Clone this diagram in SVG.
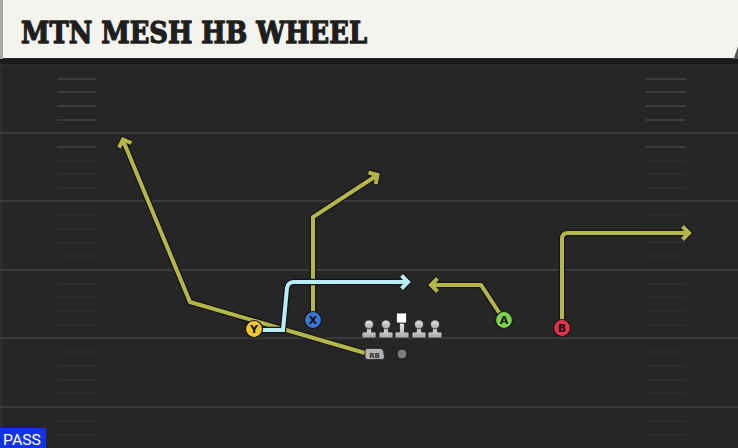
<svg xmlns="http://www.w3.org/2000/svg" width="738" height="448" viewBox="0 0 738 448">
<defs>
<style>
.yard{stroke:#3a3a3a;stroke-width:2}
.hash{stroke:#2c2c2c;stroke-width:2}
.hash.top{stroke:#3c3c3c}
.rt-o{fill:none;stroke:#151515;stroke-width:6.5;stroke-linejoin:miter;stroke-linecap:butt}
.rt{fill:none;stroke:#b4b54b;stroke-width:4;stroke-linejoin:miter;stroke-linecap:butt}
.rt.cyan{stroke:#b8ecf8}
.pl{stroke:#151515;stroke-width:1.2}
.lbl{font-family:"DejaVu Sans","Liberation Sans",sans-serif;font-weight:bold;font-size:11px;fill:#111;text-anchor:middle}
.ol{fill:url(#lg);stroke:#222;stroke-width:0.8}
</style>
<linearGradient id="lg" x1="0" y1="0" x2="0" y2="1">
<stop offset="0" stop-color="#e6e6e6"/>
<stop offset="1" stop-color="#a8a8a8"/>
</linearGradient>
</defs>

<!-- field -->
<rect x="0" y="0" width="738" height="448" fill="#262626"/>
<rect x="0" y="59" width="738" height="5" fill="#1a1a1a"/>
<line x1="0" y1="65.5" x2="738" y2="65.5" stroke="#303030" stroke-width="1"/>
<rect x="0" y="64" width="2" height="384" fill="#2e2e2e"/>

<g id="yardlines">
<line class="yard" x1="0" y1="133" x2="738" y2="133"/>
<line class="yard" x1="0" y1="201" x2="738" y2="201"/>
<line class="yard" x1="0" y1="270" x2="738" y2="270"/>
<line class="yard" x1="0" y1="338" x2="738" y2="338"/>
<line class="yard" x1="0" y1="407" x2="738" y2="407"/>
</g>
<g id="hashes">
<path class="hash top" d="M57 79H96M57 92H96M57 106H96M57 120H96M646 79H686M646 92H686M646 106H686M646 120H686M57 147H96M646 147H686"/>
<path class="hash" d="M57 161H96M57 174H96M57 188H96M57 215H96M57 229H96M57 243H96M57 256H96M57 284H96M57 297H96M57 311H96M57 325H96M57 352H96M57 366H96M57 380H96M57 393H96M57 421H96M57 435H96"/>
<path class="hash" d="M646 161H686M646 174H686M646 188H686M646 215H686M646 228H686M646 242H686M646 256H686M646 284H686M646 297H686M646 311H686M646 325H686M646 352H686M646 366H686M646 380H686M646 393H686M646 421H686M646 435H686"/>
</g>

<!-- header -->
<g id="header">
<rect x="0" y="0" width="3" height="59" fill="#a8a8a8"/>
<polygon points="733,50 738,44 738,59 733,59" fill="#555"/>
<polygon points="3,0 738,0 738,46 734,58 3,58" fill="#f5f3ee"/>
<text x="21" y="43" font-family="'DejaVu Serif','Liberation Serif',serif" font-weight="bold" font-size="29" fill="#1e1e1e" stroke="#1e1e1e" stroke-width="1.3" stroke-linejoin="round" textLength="346" lengthAdjust="spacingAndGlyphs">MTN MESH HB WHEEL</text>
</g>

<!-- connectors / routes -->
<g id="routes">
<g id="route-rb">
<path class="rt-o" d="M365 353L190 302L123.5 141.5M131.5 143L123 139.5L119 147.5"/>
<path class="rt" d="M365 353L190 302L123.5 141.5M131.5 143L123 139.5L119 147.5"/>
</g>
<g id="route-x">
<path class="rt-o" d="M313 320V217L376 176M375.8 184L377.5 175L368.5 172.5"/>
<path class="rt" d="M313 320V217L376 176M375.8 184L377.5 175L368.5 172.5"/>
</g>
<g id="route-y">
<path class="rt-o cyan" d="M262 330H283L287 288Q288 282 294 282H407M401.5 275.5L408 282L401.5 288.5"/>
<path class="rt cyan" d="M262 330H283L287 288Q288 282 294 282H407M401.5 275.5L408 282L401.5 288.5"/>
</g>
<g id="route-a">
<path class="rt-o" d="M504 320L481 285H432M437.5 278.5L431 285L437.5 291.5"/>
<path class="rt" d="M504 320L481 285H432M437.5 278.5L431 285L437.5 291.5"/>
</g>
<g id="route-b">
<path class="rt-o" d="M562 328V239Q562 233 568 233H688M682.5 226.5L689 233L682.5 239.5"/>
<path class="rt" d="M562 328V239Q562 233 568 233H688M682.5 226.5L689 233L682.5 239.5"/>
</g>
</g>

<!-- offensive line -->
<g id="ol-lt"><path class="ol" d="M366.5 326H371.5V332H374.5Q376 332 376 333.5V338H362V333.5Q362 332 363.5 332H366.5Z"/><circle class="ol" cx="369" cy="324.5" r="4.5"/></g>
<g id="ol-lg"><path class="ol" d="M383.5 326H388.5V332H391.5Q393 332 393 333.5V338H379V333.5Q379 332 380.5 332H383.5Z"/><circle class="ol" cx="386" cy="324.5" r="4.5"/></g>
<g id="ol-c"><path class="ol" d="M399.5 323H404.5V332H407.5Q409 332 409 333.5V338H395V333.5Q395 332 396.5 332H399.5Z"/><rect x="396.5" y="313" width="10" height="10" fill="#ffffff" stroke="#222" stroke-width="0.8"/></g>
<g id="ol-rg"><path class="ol" d="M416.5 326H421.5V332H424.5Q426 332 426 333.5V338H412V333.5Q412 332 413.5 332H416.5Z"/><circle class="ol" cx="419" cy="324.5" r="4.5"/></g>
<g id="ol-rt"><path class="ol" d="M432.5 326H437.5V332H440.5Q442 332 442 333.5V338H428V333.5Q428 332 429.5 332H432.5Z"/><circle class="ol" cx="435" cy="324.5" r="4.5"/></g>

<g id="qb"><circle cx="402" cy="354" r="5" fill="#7c7c7c" stroke="#1a1a1a" stroke-width="1"/></g>
<g id="rb">
<path d="M367 348.5H380Q383 348.5 383.5 351.5L384.5 357Q384.5 359.5 381.5 359.5H368Q365 359.5 365 357V351Q365 348.5 367 348.5Z" fill="#b4b4b4" stroke="#222" stroke-width="0.8"/>
<text x="374.5" y="357.5" font-family="'DejaVu Sans','Liberation Sans',sans-serif" font-weight="bold" font-size="7" fill="#333" text-anchor="middle">RB</text>
</g>

<!-- receivers -->
<g id="player-y"><circle class="pl" cx="254" cy="329" r="8.5" fill="#f2c531"/><text class="lbl" x="254" y="333">Y</text></g>
<g id="player-x"><circle class="pl" cx="313" cy="320" r="8.5" fill="#3c76d6"/><text class="lbl" x="313" y="324">X</text></g>
<g id="player-a"><circle class="pl" cx="504" cy="320" r="8.5" fill="#7fd24b"/><text class="lbl" x="504" y="324">A</text></g>
<g id="player-b"><circle class="pl" cx="562" cy="328" r="8.5" fill="#e2334b"/><text class="lbl" x="562" y="332">B</text></g>

<!-- pass tag -->
<g id="pass-tag">
<rect x="0" y="428" width="46" height="20" fill="#1234e0"/>
<text x="3" y="445" font-family="Roboto,'Liberation Sans',sans-serif" font-size="15" fill="#ffffff" textLength="38" lengthAdjust="spacingAndGlyphs">PASS</text>
</g>
</svg>
